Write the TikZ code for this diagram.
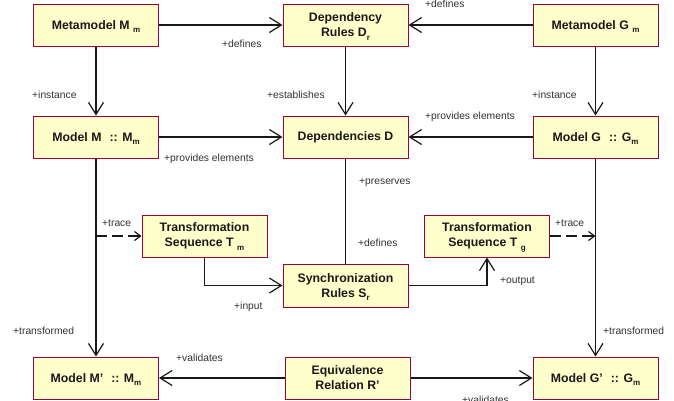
\documentclass[tikz,border=0pt]{standalone}
\usepackage{fontspec}
\setmainfont{Liberation Sans}
\usetikzlibrary{arrows.meta}
\definecolor{boxfill}{RGB}{255,255,204}
\definecolor{boxline}{RGB}{160,0,60}
\definecolor{lbl}{RGB}{50,50,50}
\definecolor{conn}{RGB}{25,25,25}
\newcommand{\subx}[1]{\smash{\raisebox{-3.5pt}{\fontsize{8}{8}\selectfont #1}}}
\begin{document}
\begin{tikzpicture}[x=1pt,y=-1pt,
  umlbox/.style={draw=boxline, fill=boxfill, line width=1pt, minimum width=125pt, minimum height=42pt, inner sep=0pt, align=center, font=\bfseries\fontsize{12.3}{15}\selectfont, text=black!90},
  lab/.style={anchor=base west, inner sep=0pt, font=\fontsize{10.3}{12}\selectfont, text=lbl},
  assoc/.style={line width=1.2pt, draw=conn, -{Straight Barb[length=12pt,width=15pt]}},
  plainline/.style={line width=1.2pt, draw=conn},
  tracearrow/.style={line width=2.2pt, dash pattern=on 11pt off 5pt, draw=conn, -{Straight Barb[length=6pt,width=9pt,line width=1.2pt]}}
]
\useasboundingbox (0,0) rectangle (674,400);

% boxes
\node[umlbox] (mmM) at (96,25) {Metamodel M \subx{m}};
\node[umlbox] (dr)  at (345.5,25) {Dependency\\Rules D\subx{r}};
\node[umlbox] (mmG) at (595.5,25) {Metamodel G \subx{m}};
\node[umlbox] (mM)  at (96,137) {Model M\hspace{8pt}:: M\subx{m}};
\node[umlbox] (dd)  at (345.5,137) {Dependencies D};
\node[umlbox] (mG)  at (595.5,137) {Model G\hspace{8pt}:: G\subx{m}};
\node[umlbox] (tm)  at (204.5,236) {Transformation\\Sequence T \subx{m}};
\node[umlbox, minimum height=43pt] (sr) at (345.5,285.5) {Synchronization\\Rules S\subx{r}};
\node[umlbox] (tg)  at (487,236) {Transformation\\Sequence T \subx{g}};
\node[umlbox] (mMp) at (96,378) {Model M'\hspace{8pt}:: M\subx{m}};
\node[umlbox] (er)  at (347.5,378) {Equivalence\\Relation R'};
\node[umlbox] (mGp) at (595.5,378) {Model G'\hspace{8pt}:: G\subx{m}};

\coordinate (tl) at (96,236);
\coordinate (tr) at (595.5,236);

% connectors
\draw[assoc] (mmM) -- (dr);
\draw[assoc] (mmG) -- (dr);
\draw[assoc] (mmM) -- (mM);
\draw[assoc] (mmG) -- (mG);
\draw[assoc] (dr) -- (dd);
\draw[assoc] (mM) -- (dd);
\draw[assoc] (mG) -- (dd);
\draw[plainline] (dd) -- (sr);
\draw[assoc] (mM) -- (mMp);
\draw[assoc] (mG) -- (mGp);
\draw[tracearrow] (tl) -- (tm.west);
\draw[tracearrow] (tg.east) -- (tr);
\draw[assoc] (tm.south) |- (sr.west);
\draw[assoc] (sr.east) -| (tg.south);
\draw[assoc] (er) -- (mMp);
\draw[assoc] (er) -- (mGp);

% labels
\node[lab] (l1)  at (222,47.3) {+defines};
\node[lab] (l2)  at (425,7.5) {+defines};
\node[lab] (l3)  at (32,98) {+instance};
\node[lab] (l4)  at (267,98) {+establishes};
\node[lab] (l5)  at (532,98) {+instance};
\node[lab] (l6)  at (164,161) {+provides elements};
\node[lab] (l7)  at (425,119.5) {+provides elements};
\node[lab] (l8)  at (359,184.5) {+preserves};
\node[lab] (l9)  at (358,246) {+defines};
\node[lab] (l10) at (102,226.5) {+trace};
\node[lab] (l11) at (555,226.5) {+trace};
\node[lab] (l12) at (234,309.5) {+input};
\node[lab] (l13) at (500,283) {+output};
\node[lab] (l14) at (13,334) {+transformed};
\node[lab] (l15) at (603,334) {+transformed};
\node[lab] (l16) at (176,361) {+validates};
\node[lab] (l17) at (462,403) {+validates};
\end{tikzpicture}
\end{document}
